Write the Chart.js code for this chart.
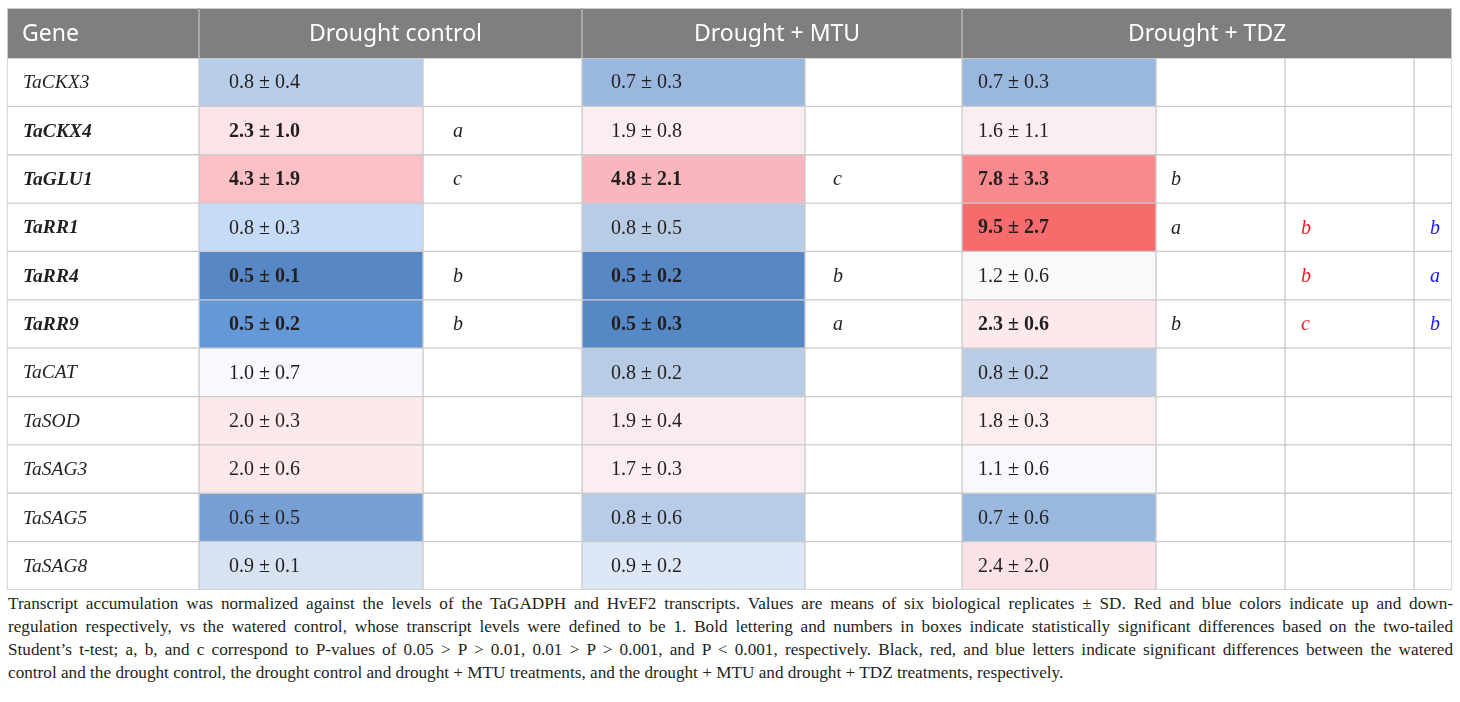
<!DOCTYPE html>
<html>
<head>
<meta charset="utf-8">
<script src="https://cdn.jsdelivr.net/npm/chart.js@4"></script>
<style>
  html, body { margin: 0; padding: 0; background: #fff; overflow: hidden; }
  #wrap { position: relative; width: 1460px; height: 592px; }
  #caption { width: 1445px; margin-left: 8px; margin-top: 0px; font-family: "Liberation Serif", serif; font-size: 17.2px; line-height: 23px; color: #231f20; }
  #caption div { text-align: justify; text-align-last: justify; white-space: nowrap; }
  #caption div.last { text-align-last: left; }
</style>
</head>
<body>
<div id="wrap"><canvas id="table"></canvas></div>
<div id="caption">
  <div>Transcript accumulation was normalized against the levels of the TaGADPH and HvEF2 transcripts. Values are means of six biological replicates ± SD. Red and blue colors indicate up and down-</div>
  <div>regulation respectively, vs the watered control, whose transcript levels were defined to be 1. Bold lettering and numbers in boxes indicate statistically significant differences based on the two-tailed</div>
  <div>Student’s t-test; a, b, and c correspond to P-values of 0.05 &gt; P &gt; 0.01, 0.01 &gt; P &gt; 0.001, and P &lt; 0.001, respectively. Black, red, and blue letters indicate significant differences between the watered</div>
  <div class="last">control and the drought control, the drought control and drought + MTU treatments, and the drought + MTU and drought + TDZ treatments, respectively.</div>
</div>
<script>
var genes = ['TaCKX3', 'TaCKX4', 'TaGLU1', 'TaRR1', 'TaRR4', 'TaRR9', 'TaCAT', 'TaSOD', 'TaSAG3', 'TaSAG5', 'TaSAG8'];
var groups = ['Drought control', 'Drought + MTU', 'Drought + TDZ'];

var dcMean = [0.8, 2.3, 4.3, 0.8, 0.5, 0.5, 1.0, 2.0, 2.0, 0.6, 0.9];
var dcSd = [0.4, 1.0, 1.9, 0.3, 0.1, 0.2, 0.7, 0.3, 0.6, 0.5, 0.1];
var dcLetter = ['', 'a', 'c', '', 'b', 'b', '', '', '', '', ''];

var mtuMean = [0.7, 1.9, 4.8, 0.8, 0.5, 0.5, 0.8, 1.9, 1.7, 0.8, 0.9];
var mtuSd = [0.3, 0.8, 2.1, 0.5, 0.2, 0.3, 0.2, 0.4, 0.3, 0.6, 0.2];
var mtuLetter = ['', '', 'c', '', 'b', 'a', '', '', '', '', ''];

var tdzMean = [0.7, 1.6, 7.8, 9.5, 1.2, 2.3, 0.8, 1.8, 1.1, 0.7, 2.4];
var tdzSd = [0.3, 1.1, 3.3, 2.7, 0.6, 0.6, 0.2, 0.3, 0.6, 0.6, 2.0];
var tdzLetter = ['', '', 'b', 'a', '', 'b', '', '', '', '', ''];
var tdzVsDcLetter = ['', '', '', 'b', 'b', 'c', '', '', '', '', '']; // red
var tdzVsMtuLetter = ['', '', '', 'b', 'a', 'b', '', '', '', '', '']; // blue

// cell shading (style)
var dcShade = ['#b8cde8', '#fbe3e6', '#fac0c6', '#c6dbf5', '#5788c5', '#6598d7', '#f8f8fd', '#fbe9ec', '#fbe9ec', '#779fd3', '#d8e3f2'];
var mtuShade = ['#9ab7dd', '#faeef1', '#f9b7bd', '#b9cce6', '#5788c5', '#5688c5', '#b9cce6', '#faebee', '#faeef1', '#b8cce7', '#dee7f5'];
var tdzShade = ['#9ab7dd', '#f9eff2', '#f88a8f', '#f66b6c', '#f9f9f9', '#fbe9ec', '#b9cce6', '#fcedef', '#f8f8fd', '#9ab7dd', '#f9e3e6'];

// layout: column edges in px, and text indent per column
var colEdges = [7, 199, 423, 582, 805, 962, 1156, 1285, 1414, 1452];
var textPad = [16, 30, 30, 29, 28, 16, 15, 16, 16];
var white = genes.map(function() { return '#ffffff'; });
var columns = [
  { kind: 'gene', shade: white },
  { kind: 'value', mean: dcMean, sd: dcSd, bold: dcLetter, shade: dcShade },
  { kind: 'letter', text: dcLetter, color: '#231f20', shade: white },
  { kind: 'value', mean: mtuMean, sd: mtuSd, bold: mtuLetter, shade: mtuShade },
  { kind: 'letter', text: mtuLetter, color: '#231f20', shade: white },
  { kind: 'value', mean: tdzMean, sd: tdzSd, bold: tdzLetter, shade: tdzShade },
  { kind: 'letter', text: tdzLetter, color: '#231f20', shade: white },
  { kind: 'letter', text: tdzVsDcLetter, color: '#ee1c24', shade: white },
  { kind: 'letter', text: tdzVsMtuLetter, color: '#1a1aff', shade: white }
];
var allLetters = [dcLetter, mtuLetter, tdzLetter, tdzVsDcLetter, tdzVsMtuLetter];

var datasets = columns.map(function(col, c) {
  return {
    label: 'col' + c,
    data: genes.map(function() { return [colEdges[c], colEdges[c + 1]]; }),
    backgroundColor: col.shade,
    borderColor: '#cbcbcb',
    borderWidth: 1,
    borderSkipped: false,
    grouped: false,
    barPercentage: 1,
    categoryPercentage: 1
  };
});

var headerPlugin = {
  id: 'header',
  beforeDatasetsDraw: function(chart) {
    var ctx = chart.ctx;
    var top = 8, bottom = chart.chartArea.top;
    ctx.save();
    ctx.fillStyle = '#7f7f7f';
    ctx.fillRect(colEdges[0], top, colEdges[9] - colEdges[0], bottom - top);
    ctx.strokeStyle = '#cbcbcb';
    ctx.lineWidth = 1;
    ctx.strokeRect(colEdges[0] + 0.5, top + 0.5, colEdges[9] - colEdges[0] - 1, bottom - top);
    ctx.strokeStyle = '#a9a9a9';
    ctx.lineWidth = 2;
    [1, 3, 5].forEach(function(c) {
      ctx.beginPath();
      ctx.moveTo(colEdges[c], top);
      ctx.lineTo(colEdges[c], bottom);
      ctx.stroke();
    });
    ctx.fillStyle = '#ffffff';
    ctx.font = '23px "Noto Sans", "Open Sans", sans-serif';
    ctx.textBaseline = 'middle';
    ctx.textAlign = 'left';
    var mid = (top + bottom) / 2 + 1;
    ctx.fillText('Gene', 22, mid);
    ctx.textAlign = 'center';
    ctx.fillText(groups[0], (colEdges[1] + colEdges[3]) / 2 + 5, mid);
    ctx.fillText(groups[1], (colEdges[3] + colEdges[5]) / 2 + 5, mid);
    ctx.fillText(groups[2], (colEdges[5] + colEdges[9]) / 2, mid);
    ctx.restore();
  }
};

var cellTextPlugin = {
  id: 'cellText',
  afterDatasetsDraw: function(chart) {
    var ctx = chart.ctx;
    ctx.save();
    ctx.textBaseline = 'middle';
    ctx.textAlign = 'left';
    columns.forEach(function(col, c) {
      var meta = chart.getDatasetMeta(c);
      meta.data.forEach(function(el, i) {
        var x = Math.min(el.x, el.base) + textPad[c];
        var y = el.y + 1;
        var txt = '', font = '', color = '#231f20';
        if (col.kind === 'gene') {
          var sig = allLetters.some(function(a) { return a[i] !== ''; });
          txt = genes[i];
          font = (sig ? 'italic bold ' : 'italic ') + '19.5px "Liberation Serif", serif';
        } else if (col.kind === 'value') {
          txt = col.mean[i].toFixed(1) + ' ± ' + col.sd[i].toFixed(1);
          font = (col.bold[i] !== '' ? 'bold ' : '') + '20px "Liberation Serif", serif';
        } else {
          txt = col.text[i];
          font = 'italic 20px "Liberation Serif", serif';
          color = col.color;
        }
        if (!txt) return;
        ctx.font = font;
        ctx.fillStyle = color;
        ctx.fillText(txt, x, y);
      });
    });
    ctx.restore();
  }
};

var chart = new Chart(document.getElementById('table'), {
  type: 'bar',
  data: { labels: genes, datasets: datasets },
  options: {
    indexAxis: 'y',
    responsive: true,
    maintainAspectRatio: false,
    animation: false,
    layout: { padding: { top: 58, bottom: 2, left: 0, right: 0 } },
    scales: {
      x: { type: 'linear', min: 0, max: 1460, display: false },
      y: { type: 'category', display: false }
    },
    plugins: { legend: { display: false }, tooltip: { enabled: false } }
  },
  plugins: [headerPlugin, cellTextPlugin]
});
</script>
</body>
</html>
